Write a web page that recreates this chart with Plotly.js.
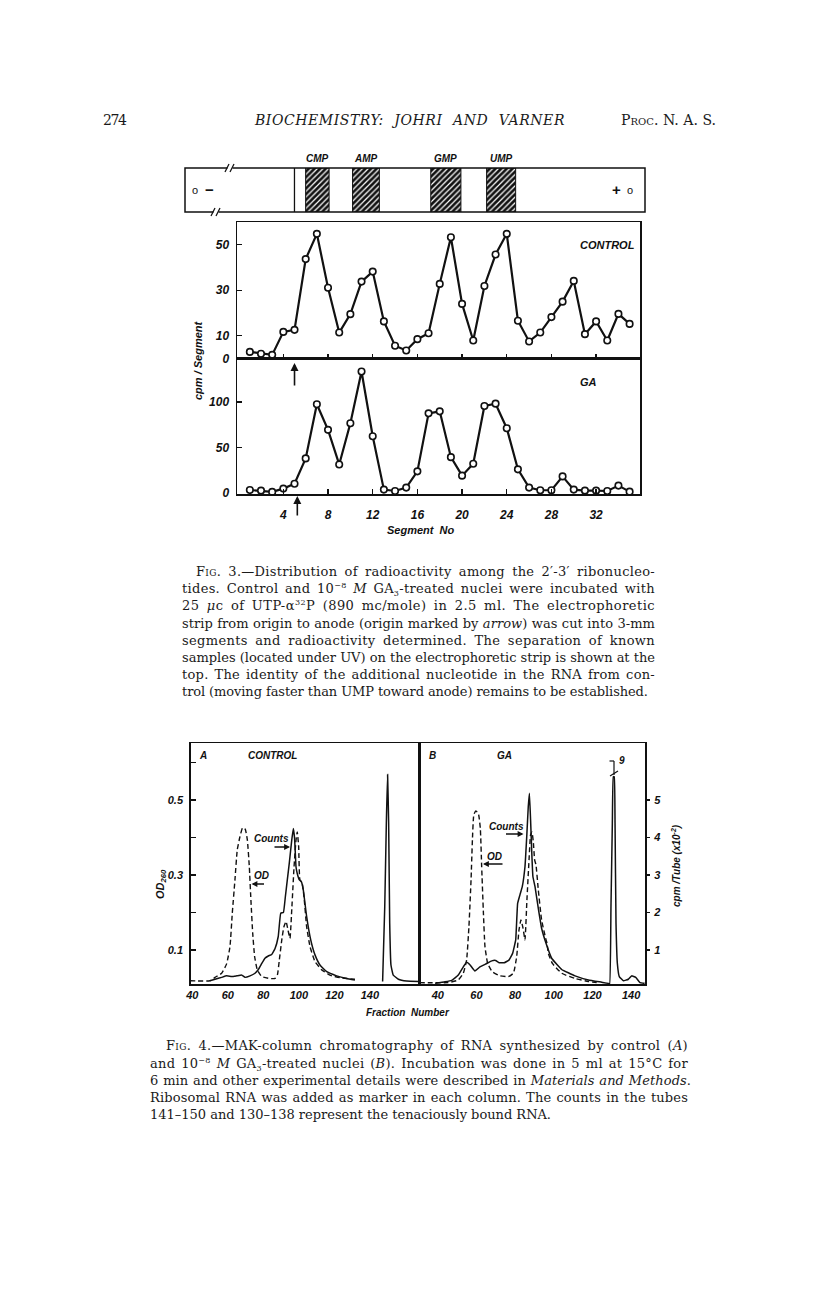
<!DOCTYPE html>
<html><head><meta charset="utf-8">
<script src="https://cdn.plot.ly/plotly-3.0.1.min.js"></script>
<style>
body{margin:0;background:#fff;}
#page{position:relative;width:816px;height:1292px;overflow:hidden;background:#fff;}
#chart{position:absolute;left:0;top:0;width:816px;height:1292px;}
.t{position:absolute;white-space:nowrap;font-family:'DejaVu Serif','Liberation Serif',serif;color:#1a1a1a;font-size:13px;line-height:17px;}
.sc{font-variant:small-caps;}
sup{font-size:8px;vertical-align:5px;line-height:0;}
sub{font-size:8px;vertical-align:-3px;line-height:0;}
</style></head><body>
<div id="page"><div id="chart"></div>
<div class="t fit" data-l="103" data-w="24" data-c="120" style="font-size:14px">274</div>
<div class="t fit" data-l="255" data-w="310" data-c="120" style="font-size:14px;font-style:italic">BIOCHEMISTRY: JOHRI AND VARNER</div>
<div class="t fit" data-l="621" data-w="95" data-c="120" style="font-size:14px"><span class="sc">Proc</span>. N. A. S.</div>

<div class="t fit" data-l="196" data-w="459" data-c="571.4"><span class="sc">Fig</span>. 3.—Distribution of radioactivity among the 2′-3′ ribonucleo-</div>
<div class="t fit" data-l="182" data-w="473" data-c="588.6">tides. Control and 10<sup>−8</sup> <i>M</i> GA<sub>3</sub>-treated nuclei were incubated with</div>
<div class="t fit" data-l="182" data-w="473" data-c="605.8">25 <i>μ</i>c of UTP-α<sup>32</sup>P (890 mc/mole) in 2.5 ml. The electrophoretic</div>
<div class="t fit" data-l="182" data-w="473" data-c="623.0">strip from origin to anode (origin marked by <i>arrow</i>) was cut into 3-mm</div>
<div class="t fit" data-l="182" data-w="473" data-c="640.2">segments and radioactivity determined. The separation of known</div>
<div class="t fit" data-l="182" data-w="473" data-c="657.4">samples (located under UV) on the electrophoretic strip is shown at the</div>
<div class="t fit" data-l="182" data-w="473" data-c="674.6">top. The identity of the additional nucleotide in the RNA from con-</div>
<div class="t fit" data-l="182" data-w="466" data-c="691.8">trol (moving faster than UMP toward anode) remains to be established.</div>

<div class="t fit" data-l="166" data-w="522" data-c="1045.8"><span class="sc">Fig</span>. 4.—MAK-column chromatography of RNA synthesized by control (<i>A</i>)</div>
<div class="t fit" data-l="150" data-w="538" data-c="1063.0">and 10<sup>−8</sup> <i>M</i> GA<sub>3</sub>-treated nuclei (<i>B</i>). Incubation was done in 5 ml at 15°C for</div>
<div class="t fit" data-l="150" data-w="541" data-c="1080.2">6 min and other experimental details were described in <i>Materials and Methods</i>.</div>
<div class="t fit" data-l="150" data-w="538" data-c="1097.4">Ribosomal RNA was added as marker in each column. The counts in the tubes</div>
<div class="t fit" data-l="150" data-w="401" data-c="1114.6">141–150 and 130–138 represent the tenaciously bound RNA.</div>
</div>
<script>
// ---------- Fig. 3 data ----------
const segment = [1,2,3,4,5,6,7,8,9,10,11,12,13,14,15,16,17,18,19,20,21,22,23,24,25,26,27,28,29,30,31,32,33,34,35];
const controlCpm = [2.9,2.1,1.6,11.7,12.6,43.7,54.8,31.1,11.4,19.5,33.8,38.2,16.3,5.6,3.5,8.5,11.1,32.8,53.3,24.0,7.9,31.9,45.7,54.8,16.6,7.5,11.4,18.2,25.0,34.1,10.7,16.3,7.9,19.6,15.2];
const gaCpm = [3.6,2.9,1.5,5.1,10.5,38.2,97.5,69.5,31.6,76.7,133.5,62.5,4.0,2.5,6.2,24.0,87.6,89.8,39.6,19.3,32.4,95.6,98.2,71.3,26.2,6.2,3.3,3.3,18.5,4.0,2.9,2.9,2.5,8.4,1.8];
const segmentTicks = [4,8,12,16,20,24,28,32];
const controlTicks = [0,10,30,50];
const gaTicks = [0,50,100];
const nucleotides = ['CMP','AMP','GMP','UMP'];
const bandStart = [6.0,10.2,17.2,22.2];
const bandEnd = [8.1,12.6,19.9,24.8];
const originSegment = 5;

// ---------- Fig. 4 data ----------
const aOdFraction = [38.7,49.9,52.8,56.5,59.3,61.2,62.5,64.0,65.3,66.8,68.3,69.8,71.0,72.1,73.0,74.0,75.1,76.6,79.1,83.7,86.6,87.9,89.0,90.5,91.6,92.8,93.9,95.0,96.1,97.3,98.4,99.1,99.9,100.6,101.8,102.9,104.4,106.3,109.1,112.9,117.5,123.2,131.6];
const aOd = [0.018,0.018,0.027,0.038,0.063,0.109,0.198,0.287,0.367,0.402,0.426,0.422,0.393,0.322,0.233,0.145,0.082,0.047,0.029,0.024,0.024,0.033,0.073,0.131,0.162,0.176,0.153,0.131,0.216,0.322,0.393,0.415,0.376,0.287,0.280,0.242,0.162,0.109,0.069,0.047,0.033,0.026,0.022];
const aCountsFraction = [49.9,52.8,56.5,59.3,62.2,65.0,67.8,69.7,72.5,75.3,77.2,79.1,80.9,82.8,84.7,86.6,88.4,89.8,91.3,92.4,93.5,94.6,96.0,96.9,97.6,98.4,99.1,100.3,101.4,102.5,104.4,106.7,109.1,111.9,115.7,121.3,126.9,131.6,null,147.2,148.4,149.3,150.0,150.6,151.2,151.9,153.2,156.1,160.7,167.5];
const aCounts = [0.18,0.22,0.27,0.31,0.29,0.31,0.33,0.27,0.31,0.38,0.48,0.64,0.78,0.84,0.88,1.04,1.36,1.98,2.00,2.42,2.87,3.31,3.93,4.24,3.98,3.22,3.04,2.87,2.82,2.60,1.89,1.27,0.87,0.60,0.42,0.31,0.24,0.20,null,0.16,2.16,4.38,5.68,4.38,1.71,0.60,0.33,0.22,0.17,0.16];
const bOdFraction = [30.5,45.4,50.6,53.2,54.9,56.1,57.2,57.9,58.6,59.6,61.0,62.0,62.7,63.6,64.4,65.8,68.2,72.2,76.5,79.1,80.8,82.0,83.0,84.1,85.1,86.1,87.2,88.0,88.7,89.4,90.1,90.8,92.0,93.7,95.8,96.5,97.2,99.3,104.1,111.0,117.9,122.2];
const bOd = [0.013,0.013,0.020,0.038,0.073,0.162,0.287,0.393,0.460,0.471,0.464,0.424,0.322,0.198,0.109,0.064,0.042,0.031,0.029,0.038,0.082,0.153,0.180,0.158,0.127,0.233,0.340,0.407,0.415,0.389,0.340,0.327,0.260,0.180,0.131,0.118,0.091,0.064,0.038,0.024,0.016,0.013];
const bCountsFraction = [38.6,43.7,47.2,50.6,53.2,54.9,56.7,59.2,61.8,65.3,67.9,69.9,71.7,74.4,76.8,78.7,80.3,81.3,82.5,83.7,85.1,86.1,86.8,87.4,88.0,88.7,89.2,90.3,92.0,93.7,96.3,98.9,104.1,111.0,117.9,124.8,128.2,128.9,129.6,130.3,130.8,131.3,131.7,132.2,132.9,133.9,136.0,138.6,140.3,142.4,144.6,147.0];
const bCounts = [0.11,0.15,0.19,0.33,0.55,0.67,0.60,0.44,0.55,0.64,0.71,0.72,0.66,0.66,0.73,0.91,1.27,2.24,2.47,2.69,3.22,4.11,4.82,5.18,4.47,3.49,2.96,2.69,2.11,1.58,1.13,0.78,0.48,0.31,0.20,0.14,0.11,0.09,2.16,4.38,5.62,5.62,4.38,1.71,0.64,0.29,0.18,0.22,0.31,0.27,0.13,0.11];
const fractionTicks = [40,60,80,100,120,140];
const odTicks = [0.1,0.2,0.3,0.4,0.5,0.6];
const odTickText = ['0.1','','0.3','','0.5',''];
const cpmTicks = [1,2,3,4,5];

// ---------- layout helpers ----------
const W = 816, H = 1292;
const X = p => p / W;
const Y = p => 1 - p / H;
const INK = '#111';
const bi = (size) => ({family:'Liberation Sans, Arial, sans-serif', size:size, color:INK, weight:'bold', style:'italic'});

const baseAxis = {showgrid:false, zeroline:false, showline:true, linecolor:INK, linewidth:1.5, tickcolor:INK, tickwidth:1.3, fixedrange:true};

const bandCenter = bandStart.map((s,i)=>(s+bandEnd[i])/2);
const bandWidth = bandStart.map((s,i)=>bandEnd[i]-s);

const markerStyle = {symbol:'circle', size:6.5, color:'#fff', line:{color:INK, width:1.6}};

const traces = [
  {x:segment, y:controlCpm, xaxis:'x', yaxis:'y', mode:'lines+markers', line:{color:INK, width:2.2}, marker:markerStyle, hoverinfo:'skip'},
  {x:segment, y:gaCpm, xaxis:'x2', yaxis:'y2', mode:'lines+markers', line:{color:INK, width:2.2}, marker:markerStyle, hoverinfo:'skip'},
  {type:'bar', x:bandCenter, width:bandWidth, y:bandStart.map(()=>1), base:0, xaxis:'x3', yaxis:'y3',
   marker:{color:'#fff', line:{color:INK, width:1}, pattern:{shape:'/', fgcolor:'#111', bgcolor:'#fff', size:4, solidity:0.7, fillmode:'replace'}}, hoverinfo:'skip'},
  {x:aOdFraction, y:aOd, xaxis:'x4', yaxis:'y4', mode:'lines', line:{color:INK, width:1.4, dash:'5px,3px', shape:'spline', smoothing:0.4}, hoverinfo:'skip'},
  {x:aCountsFraction, y:aCounts, xaxis:'x4', yaxis:'y5', mode:'lines', connectgaps:false, line:{color:INK, width:1.5, shape:'spline', smoothing:0.3}, hoverinfo:'skip'},
  {x:bOdFraction, y:bOd, xaxis:'x5', yaxis:'y6', mode:'lines', line:{color:INK, width:1.4, dash:'5px,3px', shape:'spline', smoothing:0.4}, hoverinfo:'skip'},
  {x:bCountsFraction, y:bCounts, xaxis:'x5', yaxis:'y7', mode:'lines', line:{color:INK, width:1.5, shape:'spline', smoothing:0.3}, hoverinfo:'skip'}
];

const fig3x = [-0.15, 35.93];
const odRange = [0.0093, 0.652];
const cpmRange = [0.093, 6.52];

const layout = {
  width:W, height:H, margin:{l:0,r:0,t:0,b:0}, showlegend:false,
  paper_bgcolor:'#fff', plot_bgcolor:'rgba(0,0,0,0)', bargap:0,
  font:{family:'Liberation Sans, Arial, sans-serif', color:INK},
  xaxis: Object.assign({}, baseAxis, {domain:[X(237),X(640)], range:fig3x, anchor:'y', tickvals:segmentTicks, ticks:'inside', ticklen:5, showticklabels:false, mirror:true}),
  yaxis: Object.assign({}, baseAxis, {domain:[Y(358.5),Y(222)], range:[0,60], anchor:'x', tickvals:controlTicks, ticks:'inside', ticklen:5, tickfont:bi(12), ticklabelstandoff:4, mirror:true}),
  xaxis2: Object.assign({}, baseAxis, {domain:[X(237),X(640)], range:fig3x, anchor:'y2', tickvals:segmentTicks, ticks:'inside', ticklen:5, tickfont:bi(12), ticklabelstandoff:9, mirror:true}),
  yaxis2: Object.assign({}, baseAxis, {domain:[Y(494),Y(358.5)], range:[-0.8,147.7], anchor:'x2', tickvals:gaTicks, ticks:'inside', ticklen:5, tickfont:bi(12), ticklabelstandoff:4, mirror:true}),
  xaxis3: {domain:[X(185),X(645)], range:[-4.8,36.38], anchor:'y3', visible:false, fixedrange:true},
  yaxis3: {domain:[Y(212),Y(168)], range:[0,1], anchor:'x3', visible:false, fixedrange:true},
  xaxis4: Object.assign({}, baseAxis, {domain:[X(190.7),X(419)], range:[39.07,167.7], anchor:'y4', tickvals:fractionTicks, ticks:'', tickfont:bi(11), mirror:true}),
  yaxis4: Object.assign({}, baseAxis, {domain:[Y(984),Y(743)], range:odRange, anchor:'x4', tickvals:odTicks, ticktext:odTickText, ticks:'inside', ticklen:5, tickfont:bi(11), ticklabelstandoff:4, mirror:true}),
  yaxis5: {overlaying:'y4', anchor:'x4', range:cpmRange, visible:false, fixedrange:true},
  xaxis5: Object.assign({}, baseAxis, {domain:[X(419),X(645)], range:[30.27,147.2], anchor:'y6', tickvals:fractionTicks, ticks:'', tickfont:bi(11), mirror:true}),
  yaxis6: Object.assign({}, baseAxis, {domain:[Y(984),Y(743)], range:odRange, anchor:'x5', showticklabels:false, ticks:'', mirror:true}),
  yaxis7: {overlaying:'y6', anchor:'x5', side:'right', range:cpmRange, tickvals:cpmTicks, ticks:'outside', ticklen:4, tickwidth:1.3, tickcolor:INK, showline:false, showgrid:false, zeroline:false, tickfont:bi(11), ticklabelstandoff:2, fixedrange:true},
  shapes: [
    {type:'rect', xref:'paper', yref:'paper', x0:X(185), x1:X(645), y0:Y(212), y1:Y(168), line:{color:INK, width:1.5}},
    {type:'line', xref:'x3', yref:'y3', x0:originSegment, x1:originSegment, y0:0, y1:1, line:{color:INK, width:1.3}},
    {type:'rect', xref:'paper', yref:'paper', x0:X(227.5), x1:X(232.5), y0:Y(170), y1:Y(166), fillcolor:'#fff', line:{width:0}},
    {type:'line', xref:'paper', yref:'paper', x0:X(225), y0:Y(172), x1:X(229), y1:Y(164), line:{color:INK, width:1.3}},
    {type:'line', xref:'paper', yref:'paper', x0:X(230), y0:Y(172), x1:X(234), y1:Y(164), line:{color:INK, width:1.3}},
    {type:'rect', xref:'paper', yref:'paper', x0:X(213.5), x1:X(218.5), y0:Y(214), y1:Y(210), fillcolor:'#fff', line:{width:0}},
    {type:'line', xref:'paper', yref:'paper', x0:X(211), y0:Y(216), x1:X(215), y1:Y(208), line:{color:INK, width:1.3}},
    {type:'line', xref:'paper', yref:'paper', x0:X(216), y0:Y(216), x1:X(220), y1:Y(208), line:{color:INK, width:1.3}},
    {type:'line', xref:'paper', yref:'paper', x0:X(614), y0:Y(761), x1:X(614), y1:Y(775), line:{color:INK, width:1.2}},
    {type:'line', xref:'paper', yref:'paper', x0:X(609.5), y0:Y(761), x1:X(614), y1:Y(761), line:{color:INK, width:1.2}},
    {type:'line', xref:'paper', yref:'paper', x0:X(610), y0:Y(776), x1:X(618), y1:Y(771), line:{color:INK, width:1.2}}
  ],
  annotations: []
};

const ann = layout.annotations;
function txt(text, x, y, size, extra){ ann.push(Object.assign({text:text, xref:'paper', yref:'paper', x:X(x), y:Y(y), showarrow:false, font:bi(size), xanchor:'center', yanchor:'middle'}, extra||{})); }
function arrow(xh, yh, ax, ay, extra){ ann.push(Object.assign({text:'', xref:'paper', yref:'paper', x:X(xh), y:Y(yh), ax:ax, ay:ay, showarrow:true, arrowhead:2, arrowsize:0.9, arrowwidth:1.3, arrowcolor:INK}, extra||{})); }

// strip labels
nucleotides.forEach((n,i)=>ann.push({text:n, xref:'x3', yref:'paper', x:bandCenter[i], y:Y(159), showarrow:false, font:bi(10), xanchor:'center', yanchor:'middle'}));
txt('o', 195, 190, 11, {font:{family:'Liberation Sans', size:11, color:INK}});
txt('−', 210, 189, 15, {font:{family:'Liberation Sans', size:15, color:INK, weight:'bold'}});
txt('+', 616.5, 189, 15, {font:{family:'Liberation Sans', size:15, color:INK, weight:'bold'}});
txt('o', 629.5, 190, 11, {font:{family:'Liberation Sans', size:11, color:INK}});
// fig 3 labels
txt('CONTROL', 607, 245, 11);
txt('GA', 588, 382, 11);
txt('cpm / Segment', 198, 360, 11, {textangle:-90});
txt('Segment  No', 421, 530, 11);
ann.push({text:'', xref:'x2', yref:'paper', x:originSegment, y:Y(363), ax:0, ay:24, showarrow:true, arrowhead:2, arrowsize:1, arrowwidth:1.6, arrowcolor:INK});
ann.push({text:'', xref:'x2', yref:'paper', x:originSegment+0.25, y:Y(496), ax:0, ay:21, showarrow:true, arrowhead:2, arrowsize:1, arrowwidth:1.6, arrowcolor:INK});
// fig 4 labels
txt('A', 203, 755, 10);
txt('CONTROL', 272, 755, 10);
txt('B', 432, 755, 10);
txt('GA', 504, 755, 10);
txt('Counts', 271, 839, 10);
arrow(290, 847, -17, 0);
txt('OD', 261, 875, 10);
arrow(251.5, 884, 14, 0);
txt('Counts', 506, 826, 10);
arrow(523.5, 834, -19, 0);
txt('OD', 495, 856, 10);
arrow(483, 864, 21, 0);
txt('9', 622, 760, 10);
txt('OD<sub>260</sub>', 161, 884, 11, {textangle:-90});
txt('cpm /Tube (x10<sup>-2</sup>)', 676, 866, 10, {textangle:-90});
txt('Fraction  Number', 408, 1013, 10);

Plotly.newPlot('chart', traces, layout, {staticPlot:true, displayModeBar:false});

// position and justify the printed text lines
document.querySelectorAll('.fit').forEach(el=>{
  const lh = 17;
  el.style.left = el.dataset.l + 'px';
  el.style.top = (parseFloat(el.dataset.c) - lh/2) + 'px';
  const target = parseFloat(el.dataset.w);
  const nat = el.getBoundingClientRect().width;
  const n = el.textContent.length;
  const spaces = (el.textContent.match(/ /g)||[]).length;
  const diff = target - nat;
  if (diff > 0 && spaces > 0) {
    el.style.letterSpacing = (0.5*diff/n) + 'px';
    const nat2 = el.getBoundingClientRect().width;
    el.style.wordSpacing = ((target - nat2)/spaces) + 'px';
  } else if (diff !== 0) {
    el.style.letterSpacing = (diff/Math.max(1,n-1)) + 'px';
  }
});
</script>
</body></html>
